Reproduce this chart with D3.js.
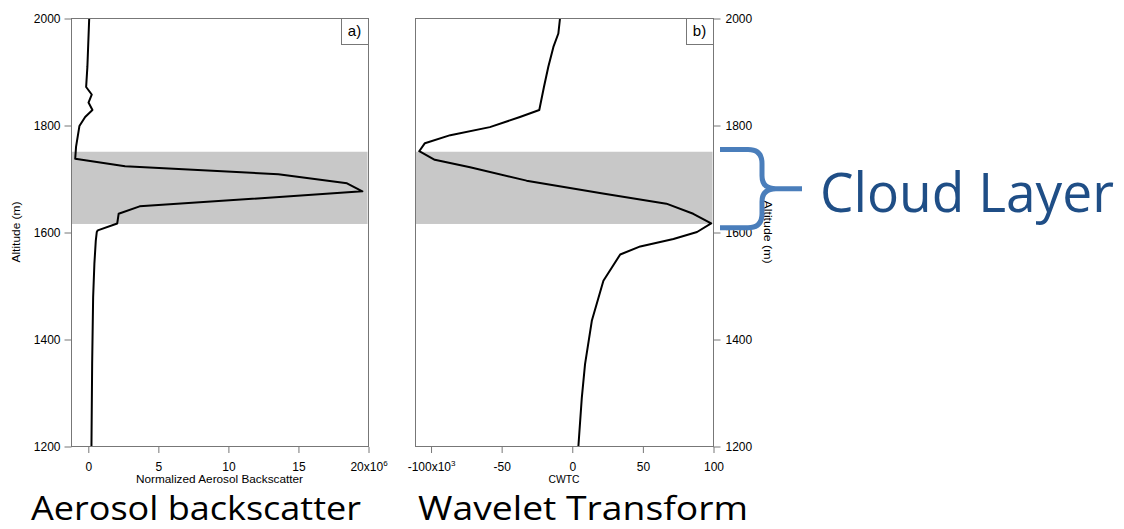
<!DOCTYPE html>
<html>
<head>
<meta charset="utf-8">
<script src="https://cdn.jsdelivr.net/npm/d3@7"></script>
<style>
  html, body { margin: 0; padding: 0; background: #fff; }
  svg { display: block; }
  .tick text { font-family: 'Liberation Sans', Arial, sans-serif; font-size: 12px; fill: #000; }
  .tick line { stroke: #777; }
</style>
</head>
<body>
<div id="chart"></div>
<script>
// altitude profiles
const altA = [2000, 1909, 1871, 1857, 1842, 1828, 1815, 1798, 1759, 1737, 1723, 1708, 1691, 1676, 1648, 1634, 1616, 1603, 1600, 1584, 1541, 1478, 1354, 1200];
const backscatter = [0.1, -0.03, -0.12, 0.28, 0.05, 0.33, -0.19, -0.6, -0.84, -0.9, 2.66, 13.6, 18.5, 19.6, 3.7, 2.2, 2.1, 0.71, 0.64, 0.57, 0.47, 0.38, 0.31, 0.26];

const altB = [2000, 1971, 1946, 1909, 1871, 1828, 1815, 1796, 1781, 1766, 1751, 1735, 1721, 1696, 1672, 1653, 1634, 1616, 1600, 1587, 1573, 1558, 1509, 1434, 1353, 1290, 1200];
const cwtc = [-8.3, -9.5, -13, -16.6, -19.7, -23, -36.7, -58, -86, -104, -108, -97, -72, -32, 22, 67, 86, 98.7, 88.7, 72, 48.5, 34.3, 22.4, 14.2, 9.4, 7.1, 4.7];

const altTicks = [1200, 1400, 1600, 1800, 2000];
const ticksA = [0, 5, 10, 15, 20];
const ticksB = [-100, -50, 0, 50, 100];
const cloudBand = [1615, 1750];
const bracketRange = [1608, 1754, 1681];

const width = 1124, height = 529;
const plotTop = 18, plotBottom = 446;

const svg = d3.select('#chart').append('svg')
  .attr('width', width)
  .attr('height', height);

const y = d3.scaleLinear().domain([1200, 2000]).range([plotBottom, plotTop]);
const xA = d3.scaleLinear().domain([-1.2, 20]).range([71, 368]);
const xB = d3.scaleLinear().domain([-111, 100]).range([415, 713]);

function panel(x, alts, vals, ticks, sup, title, tag) {
  const [x0, x1] = x.range();
  const g = svg.append('g');

  // grey cloud band
  g.append('rect')
    .attr('x', x0 + 0.5)
    .attr('y', y(cloudBand[1]))
    .attr('width', x1 - x0 - 1)
    .attr('height', y(cloudBand[0]) - y(cloudBand[1]))
    .attr('fill', '#c8c8c8');

  // profile
  const line = d3.line().x(d => x(d[1])).y(d => y(d[0]));
  g.append('path')
    .datum(alts.map((a, i) => [a, vals[i]]))
    .attr('d', line)
    .attr('fill', 'none')
    .attr('stroke', '#000')
    .attr('stroke-width', 2)
    .attr('stroke-linejoin', 'round');

  // frame
  g.append('rect')
    .attr('x', x0 + 0.5).attr('y', plotTop + 0.5)
    .attr('width', x1 - x0).attr('height', plotBottom - plotTop)
    .attr('fill', 'none').attr('stroke', '#777').attr('stroke-width', 1);

  // bottom axis
  const ax = g.append('g')
    .attr('transform', `translate(0.5, ${plotBottom + 1})`)
    .call(d3.axisBottom(x).tickValues(ticks).tickSize(6).tickSizeOuter(0).tickPadding(9)
      .tickFormat(d => String(d)));
  ax.select('.domain').remove();
  const marked = sup.at === 'last' ? ticks[ticks.length - 1] : ticks[0];
  ax.selectAll('.tick').filter(d => d === marked).select('text')
    .text(d => d + 'x10')
    .append('tspan').attr('dy', '-0.55em').style('font-size', '8px').text(sup.exp);

  g.append('text')
    .attr('x', (x0 + x1) / 2).attr('y', 483)
    .attr('text-anchor', 'middle')
    .attr('textLength', title.len).attr('lengthAdjust', 'spacingAndGlyphs')
    .style('font-family', "'Liberation Sans Narrow', 'Liberation Sans', sans-serif")
    .style('font-size', '11.5px')
    .text(title.text);

  // panel tag box
  g.append('rect')
    .attr('x', x1 - 27 + 0.5).attr('y', plotTop + 0.5)
    .attr('width', 27).attr('height', 26)
    .attr('fill', '#fff').attr('stroke', '#777');
  g.append('text')
    .attr('x', x1 - 13.5).attr('y', plotTop + 18)
    .attr('text-anchor', 'middle')
    .style('font-family', "'Liberation Sans', sans-serif")
    .style('font-size', '15px')
    .text(tag);
  return g;
}

panel(xA, altA, backscatter, ticksA, { at: 'last', exp: '6' },
  { text: 'Normalized Aerosol Backscatter', len: 167 }, 'a)');
panel(xB, altB, cwtc, ticksB, { at: 'first', exp: '3' },
  { text: 'CWTC', len: 31 }, 'b)');

// altitude axes
const ly = svg.append('g').attr('transform', 'translate(71.5, 0.5)')
  .call(d3.axisLeft(y).tickValues(altTicks).tickSize(7).tickSizeOuter(0).tickPadding(4)
    .tickFormat(d => String(d)));
ly.select('.domain').remove();
const ry = svg.append('g').attr('transform', 'translate(713.5, 0.5)')
  .call(d3.axisRight(y).tickValues(altTicks).tickSize(7).tickSizeOuter(0).tickPadding(5)
    .tickFormat(d => String(d)));
ry.select('.domain').remove();

svg.append('text')
  .attr('transform', `translate(20, ${(plotTop + plotBottom) / 2}) rotate(-90)`)
  .attr('text-anchor', 'middle')
  .attr('textLength', 61).attr('lengthAdjust', 'spacingAndGlyphs')
  .style('font-family', "'Liberation Sans Narrow', 'Liberation Sans', sans-serif")
  .style('font-size', '11.5px')
  .text('Altitude (m)');
svg.append('text')
  .attr('transform', `translate(764, ${(plotTop + plotBottom) / 2}) rotate(90)`)
  .attr('text-anchor', 'middle')
  .attr('textLength', 63).attr('lengthAdjust', 'spacingAndGlyphs')
  .style('font-family', "'Liberation Sans Narrow', 'Liberation Sans', sans-serif")
  .style('font-size', '11.5px')
  .text('Altitude (m)');

// cloud layer brace
const bTop = y(bracketRange[1]), bBot = y(bracketRange[0]), bMid = y(bracketRange[2]);
const bx0 = 720, bx1 = 762, bTip = 802;
const brace = d3.path();
brace.moveTo(bx0, bTop);
brace.lineTo(bx1 - 14, bTop);
brace.quadraticCurveTo(bx1, bTop, bx1, bTop + 14);
brace.lineTo(bx1, bMid - 13);
brace.quadraticCurveTo(bx1, bMid, bx1 + 14, bMid);
brace.lineTo(bTip, bMid);
brace.moveTo(bx1 + 14, bMid);
brace.quadraticCurveTo(bx1, bMid, bx1, bMid + 13);
brace.lineTo(bx1, bBot - 14);
brace.quadraticCurveTo(bx1, bBot, bx1 - 14, bBot);
brace.lineTo(bx0, bBot);
svg.append('path')
  .attr('d', brace.toString())
  .attr('fill', 'none')
  .attr('stroke', '#4a7ebb')
  .attr('stroke-width', 5);

svg.append('text')
  .attr('x', 820).attr('y', 212)
  .attr('textLength', 294).attr('lengthAdjust', 'spacingAndGlyphs')
  .style('font-family', "'Open Sans', 'Noto Sans', sans-serif")
  .style('font-size', '55px')
  .style('fill', '#1f4e86')
  .text('Cloud Layer');

// slide captions
svg.append('text')
  .attr('x', 31).attr('y', 520)
  .attr('textLength', 330).attr('lengthAdjust', 'spacingAndGlyphs')
  .style('font-family', "'Open Sans', 'Noto Sans', sans-serif")
  .style('font-size', '33px')
  .text('Aerosol backscatter');
svg.append('text')
  .attr('x', 418).attr('y', 520)
  .attr('textLength', 330).attr('lengthAdjust', 'spacingAndGlyphs')
  .style('font-family', "'Open Sans', 'Noto Sans', sans-serif")
  .style('font-size', '33px')
  .text('Wavelet Transform');
</script>
</body>
</html>
